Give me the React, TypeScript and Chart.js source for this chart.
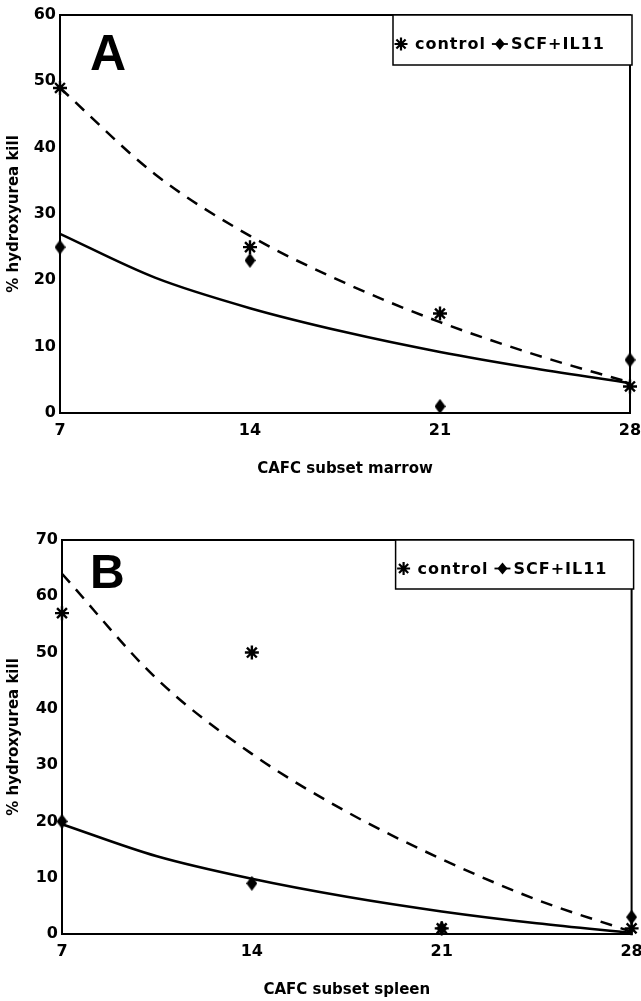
import React, { useEffect, useRef } from 'react';
import { Chart, registerables } from 'chart.js';

Chart.register(...registerables);

// ---- data ----
const xTicks = [7, 14, 21, 28];
const seriesNames = ['control', 'SCF+IL11'];
const yAxisTitle = '% hydroxyurea kill';

// Panel A (marrow)
const marrowTitle = 'CAFC subset marrow';
const marrowControl = [49, 25, 15, 4];
const marrowScf = [25, 23, 1, 8];
const fitX = [7, 10.5, 14, 17.5, 21, 24.5, 28];
const marrowControlFit = [49, 36, 26.7, 19.6, 13.7, 8.8, 4.6];
const marrowScfFit = [27, 20.4, 15.8, 12.2, 9.2, 6.7, 4.5];

// Panel B (spleen)
const spleenTitle = 'CAFC subset spleen';
const spleenControl = [57, 50, 1, 1];
const spleenScf = [20, 9, 1, 3];
const spleenControlFit = [64, 45.3, 32, 21.7, 13.3, 6.1, 0.4];
const spleenScfFit = [19.5, 13.8, 9.8, 6.6, 4.0, 1.9, 0.2];

const FONT = '"DejaVu Sans", "Liberation Sans", Arial, sans-serif';

function makeDiamondCanvas(): HTMLCanvasElement {
  const c = document.createElement('canvas');
  c.width = 11;
  c.height = 15;
  const g = c.getContext('2d')!;
  g.fillStyle = '#000';
  g.beginPath();
  g.moveTo(5.5, 0);
  g.lineTo(11, 7.5);
  g.lineTo(5.5, 15);
  g.lineTo(0, 7.5);
  g.closePath();
  g.fill();
  return c;
}

function drawStar(ctx: CanvasRenderingContext2D, x: number, y: number, r: number) {
  ctx.beginPath();
  for (let i = 0; i < 4; i++) {
    const a = (i * Math.PI) / 4;
    ctx.moveTo(x + Math.cos(a) * r, y + Math.sin(a) * r);
    ctx.lineTo(x - Math.cos(a) * r, y - Math.sin(a) * r);
  }
  ctx.stroke();
}

function drawDiamond(ctx: CanvasRenderingContext2D, x: number, y: number, w: number, h: number) {
  ctx.beginPath();
  ctx.moveTo(x, y - h);
  ctx.lineTo(x + w, y);
  ctx.lineTo(x, y + h);
  ctx.lineTo(x - w, y);
  ctx.closePath();
  ctx.fill();
}

interface PanelSpec {
  letter: string;
  title: string;
  control: number[];
  scf: number[];
  controlFit: number[];
  scfFit: number[];
  yMax: number;
  height: number;
  padTop: number;
  padRight: number;
  padBottom: number;
  yWidth: number;
  xHeight: number;
  letterDx: number;
  letterDy: number;
  letterSize: number;
  legendW: number;
  legendH: number;
  legendExtra: number;
}

function makeConfig(p: PanelSpec, diamond: HTMLCanvasElement): any {
  const decor = {
    id: 'decor' + p.letter,
    afterDraw(chart: any) {
      const { ctx, chartArea: a } = chart;
      ctx.save();
      ctx.strokeStyle = '#000';
      ctx.fillStyle = '#000';
      ctx.lineWidth = 2;
      ctx.strokeRect(a.left, a.top, a.right - a.left, a.bottom - a.top);

      // panel letter
      ctx.font = `bold ${p.letterSize}px "Liberation Sans", Arial, sans-serif`;
      ctx.textAlign = 'left';
      ctx.textBaseline = 'alphabetic';
      ctx.fillText(p.letter, a.left + p.letterDx, a.top + p.letterDy);

      // legend box
      const bx = a.right + p.legendExtra - p.legendW;
      const by = a.top;
      ctx.fillStyle = '#fff';
      ctx.fillRect(bx, by, p.legendW, p.legendH);
      ctx.fillStyle = '#000';
      ctx.lineWidth = 1.5;
      ctx.strokeRect(bx, by, p.legendW, p.legendH);
      const cy = by + p.legendH / 2 + 5;
      ctx.font = `bold 16px ${FONT}`;
      try {
        (ctx as any).letterSpacing = '1px';
      } catch (e) {
        /* ignore */
      }
      ctx.textBaseline = 'middle';
      let x = bx + 8;
      ctx.lineWidth = 2.2;
      drawStar(ctx, x, cy - 1, 6.5);
      x += 14;
      ctx.fillText(seriesNames[0], x, cy);
      x += ctx.measureText(seriesNames[0]).width + 14;
      ctx.lineWidth = 1.8;
      ctx.beginPath();
      ctx.moveTo(x - 8, cy - 1);
      ctx.lineTo(x + 8, cy - 1);
      ctx.stroke();
      drawDiamond(ctx, x, cy - 1, 5, 6);
      x += 11;
      ctx.fillText(seriesNames[1], x, cy);
      ctx.restore();
    },
  };

  const pts = (vals: number[], xs: number[]) => vals.map((v, i) => ({ x: xs[i], y: v }));

  return {
    type: 'scatter',
    data: {
      datasets: [
        {
          label: seriesNames[0],
          data: pts(p.control, xTicks),
          pointStyle: 'star',
          pointRadius: 7,
          borderWidth: 2.4,
          borderColor: '#000',
          backgroundColor: '#000',
          showLine: false,
          clip: false,
        },
        {
          label: seriesNames[1],
          data: pts(p.scf, xTicks),
          pointStyle: diamond,
          pointRadius: 6,
          borderColor: '#000',
          backgroundColor: '#000',
          showLine: false,
          clip: false,
        },
        {
          label: seriesNames[0] + ' fit',
          data: pts(p.controlFit, fitX),
          showLine: true,
          pointRadius: 0,
          borderColor: '#000',
          borderWidth: 2.5,
          borderDash: [12, 9],
          cubicInterpolationMode: 'monotone',
          clip: false,
        },
        {
          label: seriesNames[1] + ' fit',
          data: pts(p.scfFit, fitX),
          showLine: true,
          pointRadius: 0,
          borderColor: '#000',
          borderWidth: 2.5,
          cubicInterpolationMode: 'monotone',
          clip: false,
        },
      ],
    },
    options: {
      animation: false,
      responsive: false,
      devicePixelRatio: 1,
      layout: { padding: { left: 0, right: p.padRight, top: p.padTop, bottom: p.padBottom } },
      plugins: { legend: { display: false }, tooltip: { enabled: false } },
      scales: {
        x: {
          type: 'linear',
          min: 7,
          max: 28,
          afterBuildTicks: (s: any) => {
            s.ticks = xTicks.map((v) => ({ value: v }));
          },
          afterFit: (s: any) => {
            s.height = p.xHeight;
            s.paddingLeft = 0;
            s.paddingRight = 0;
          },
          grid: { display: false, drawTicks: false },
          border: { display: false },
          ticks: { color: '#000', padding: 8, font: { family: FONT, size: 16, weight: 'bold' } },
          title: {
            display: true,
            text: p.title,
            color: '#000',
            padding: 0,
            font: { family: FONT, size: 15, weight: 'bold' },
          },
        },
        y: {
          type: 'linear',
          min: 0,
          max: p.yMax,
          afterFit: (s: any) => {
            s.width = p.yWidth;
            s.paddingTop = 0;
            s.paddingBottom = 0;
          },
          grid: { display: false, drawTicks: false },
          border: { display: false },
          ticks: { stepSize: 10, color: '#000', padding: 4, font: { family: FONT, size: 16, weight: 'bold' } },
          title: {
            display: true,
            text: yAxisTitle,
            color: '#000',
            padding: { top: 5, bottom: 0 },
            font: { family: FONT, size: 15, weight: 'bold' },
          },
        },
      },
    },
    plugins: [decor],
  };
}

const panelA: PanelSpec = {
  letter: 'A',
  title: marrowTitle,
  control: marrowControl,
  scf: marrowScf,
  controlFit: marrowControlFit,
  scfFit: marrowScfFit,
  yMax: 60,
  height: 500,
  padTop: 15,
  padRight: 11,
  padBottom: 21.4,
  yWidth: 60,
  xHeight: 65.6,
  letterDx: 30,
  letterDy: 55,
  letterSize: 50,
  legendW: 239,
  legendH: 50,
  legendExtra: 2,
};

const panelB: PanelSpec = {
  letter: 'B',
  title: spleenTitle,
  control: spleenControl,
  scf: spleenScf,
  controlFit: spleenControlFit,
  scfFit: spleenScfFit,
  yMax: 70,
  height: 501,
  padTop: 40,
  padRight: 9,
  padBottom: 1.4,
  yWidth: 62,
  xHeight: 65.6,
  letterDx: 28,
  letterDy: 48,
  letterSize: 48,
  legendW: 238,
  legendH: 49,
  legendExtra: 2,
};

function Panel({ spec }: { spec: PanelSpec }) {
  const ref = useRef<HTMLCanvasElement | null>(null);
  useEffect(() => {
    if (!ref.current) return;
    const chart = new Chart(ref.current, makeConfig(spec, makeDiamondCanvas()));
    return () => chart.destroy();
  }, [spec]);
  return (
    <canvas
      ref={ref}
      width={641}
      height={spec.height}
      style={{ display: 'block', width: 641, height: spec.height }}
    />
  );
}

export default function App() {
  return (
    <div style={{ position: 'absolute', left: 0, top: 0, width: 641, height: 1001, background: '#fff' }}>
      <Panel spec={panelA} />
      <Panel spec={panelB} />
    </div>
  );
}
